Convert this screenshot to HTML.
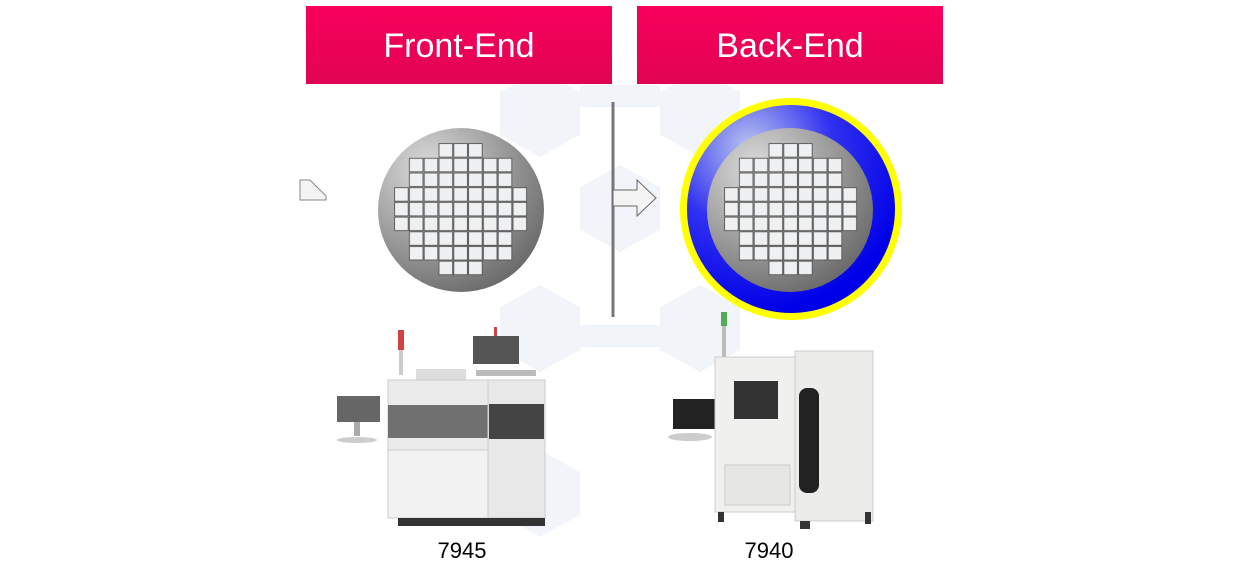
<!DOCTYPE html>
<html><head><meta charset="utf-8"><style>
body{margin:0;width:1249px;height:580px;background:#fff;overflow:hidden;font-family:"Liberation Sans",sans-serif}
</style></head><body>
<svg width="1249" height="580" xmlns="http://www.w3.org/2000/svg">
<defs>
<radialGradient id="wg" cx="0.3" cy="0.25" r="0.85"><stop offset="0" stop-color="#dcdcdc"/><stop offset="1" stop-color="#666"/></radialGradient>
<radialGradient id="bg" cx="0.3" cy="0.2" r="0.8"><stop offset="0" stop-color="#b8c4f0"/><stop offset="0.5" stop-color="#3030f0"/><stop offset="1" stop-color="#0000e8"/></radialGradient>
<linearGradient id="hd" x1="0" y1="0" x2="0" y2="1"><stop offset="0" stop-color="#f8005c"/><stop offset="1" stop-color="#e00452"/></linearGradient>
<pattern id="cells" x="0" y="0" width="14.8" height="14.7" patternUnits="userSpaceOnUse"><rect x="0.6" y="0.6" width="13.6" height="13.5" fill="#eef0f2" stroke="#555" stroke-width="0.9"/></pattern>
</defs>
<g fill="#f1f5fa">
<polygon points="540,70 580,92 580,135 540,157 500,135 500,92"/>
<polygon points="700,70 740,92 740,135 700,157 660,135 660,92"/>
<polygon points="620,165 660,187 660,230 620,252 580,230 580,187"/>
<polygon points="540,285 580,307 580,350 540,372 500,350 500,307"/>
<polygon points="700,285 740,307 740,350 700,372 660,350 660,307"/>
<polygon points="540,450 580,472 580,515 540,537 500,515 500,472"/>
<rect x="580" y="85" width="80" height="22"/><rect x="580" y="325" width="80" height="22"/>
</g>
<rect x="306" y="6" width="306" height="78" fill="url(#hd)"/>
<rect x="637" y="6" width="306" height="78" fill="url(#hd)"/>
<text x="459" y="57" font-size="34" fill="#fff" text-anchor="middle">Front-End</text>
<text x="790" y="57" font-size="34" fill="#fff" text-anchor="middle">Back-End</text>
<rect x="611.5" y="102" width="3" height="215" fill="#777"/>
<polygon points="300,180 310,180 326,196 326,200 300,200" fill="#f4f4f4" stroke="#888"/>
<polygon points="613,190 637,190 637,180 656,198 637,216 637,206 613,206" fill="#f4f4f4" stroke="#666"/>
<ellipse cx="461" cy="210" rx="83" ry="82" fill="url(#wg)"/>
<svg x="394" y="143" width="134" height="133" overflow="visible">
<g fill="url(#cells)">
<rect x="44.4" y="0" width="44.4" height="14.7"/>
<rect x="14.8" y="14.7" width="103.6" height="29.4"/>
<rect x="0" y="44.1" width="133.2" height="44.1"/>
<rect x="14.8" y="88.2" width="103.6" height="29.4"/>
<rect x="44.4" y="117.6" width="44.4" height="14.7"/>
</g></svg>
<ellipse cx="791" cy="209" rx="111" ry="111" fill="#ffff00"/>
<ellipse cx="791" cy="209" rx="104" ry="104" fill="url(#bg)"/>
<ellipse cx="790" cy="210" rx="83" ry="82" fill="url(#wg)"/>
<svg x="724" y="143" width="134" height="133" overflow="visible">
<g fill="url(#cells)">
<rect x="44.4" y="0" width="44.4" height="14.7"/>
<rect x="14.8" y="14.7" width="103.6" height="29.4"/>
<rect x="0" y="44.1" width="133.2" height="44.1"/>
<rect x="14.8" y="88.2" width="103.6" height="29.4"/>
<rect x="44.4" y="117.6" width="44.4" height="14.7"/>
</g></svg>
<!-- machine 7945 -->
<g>
<rect x="399" y="330" width="4" height="45" fill="#ccc"/><rect x="398" y="330" width="6" height="20" fill="#c44"/>
<rect x="337" y="396" width="43" height="26" fill="#666"/><rect x="354" y="422" width="6" height="14" fill="#aaa"/><ellipse cx="357" cy="440" rx="20" ry="3" fill="#ccc"/>
<rect x="416" y="369" width="50" height="12" fill="#ddd"/>
<rect x="388" y="380" width="100" height="138" fill="#ebebeb" stroke="#ccc"/>
<rect x="388" y="405" width="100" height="33" fill="#707070"/>
<rect x="388" y="450" width="100" height="68" fill="#f2f2f2" stroke="#ccc"/>
<rect x="488" y="380" width="57" height="138" fill="#e8e8e8" stroke="#ccc"/>
<rect x="489" y="404" width="55" height="35" fill="#444"/>
<rect x="473" y="336" width="46" height="28" fill="#555"/><rect x="494" y="327" width="3" height="9" fill="#c44"/>
<rect x="476" y="370" width="60" height="6" fill="#bbb"/>
<rect x="398" y="518" width="147" height="8" fill="#333"/>
</g>
<!-- machine 7940 -->
<g>
<rect x="722" y="312" width="4" height="52" fill="#bbb"/><rect x="721" y="312" width="6" height="14" fill="#5a5"/>
<rect x="673" y="399" width="46" height="30" fill="#222"/><ellipse cx="690" cy="437" rx="22" ry="4" fill="#ccc"/>
<rect x="715" y="357" width="80" height="155" fill="#f0f0ee" stroke="#ccc"/>
<rect x="734" y="381" width="44" height="38" fill="#333"/>
<rect x="795" y="351" width="78" height="170" fill="#ececea" stroke="#ccc"/>
<rect x="799" y="388" width="20" height="105" rx="8" fill="#222"/>
<rect x="725" y="465" width="65" height="40" fill="#e6e6e4" stroke="#ccc"/>
<rect x="718" y="512" width="6" height="10" fill="#333"/><rect x="865" y="512" width="6" height="12" fill="#333"/><rect x="800" y="521" width="10" height="8" fill="#333"/>
</g>
<text x="462" y="558" font-size="22" fill="#000" text-anchor="middle">7945</text>
<text x="769" y="558" font-size="22" fill="#000" text-anchor="middle">7940</text>
</svg>
</body></html>
